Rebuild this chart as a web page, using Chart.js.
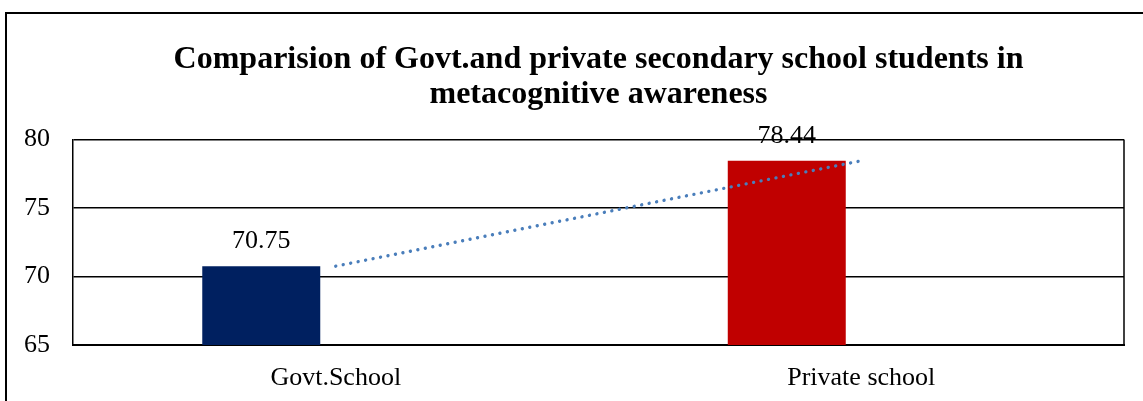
<!DOCTYPE html>
<html>
<head>
<meta charset="utf-8">
<script src="https://cdn.jsdelivr.net/npm/chart.js@4/dist/chart.umd.min.js"></script>
<style>
  html, body { margin: 0; padding: 0; background: #fff; overflow: hidden; }
  #wrap { position: absolute; left: 0; top: 0; width: 1143px; height: 401px; }
</style>
</head>
<body>
<div id="wrap"><canvas id="c" width="1143" height="401"></canvas></div>
<script>
const categories = ["Govt.School", "Private school"];
const scores = [70.75, 78.44];
const barColors = ["#002060", "#C00000"];
const titleLines = ["Comparision of Govt.and private secondary school students in", "metacognitive awareness"];
const yMin = 65, yMax = 80, yStep = 5;

const FONT = "'Liberation Serif', 'Times New Roman', serif";

const extras = {
  id: 'extras',
  beforeDraw(chart) {
    const { ctx } = chart;
    ctx.save();
    ctx.fillStyle = '#fff';
    ctx.fillRect(0, 0, chart.width, chart.height);
    ctx.strokeStyle = '#000';
    ctx.lineWidth = 2;
    ctx.beginPath();
    ctx.moveTo(chart.width, 13);
    ctx.lineTo(6, 13);
    ctx.lineTo(6, chart.height);
    ctx.stroke();
    ctx.restore();
  },
  beforeDatasetsDraw(chart) {
    const { ctx, chartArea } = chart;
    ctx.save();
    ctx.strokeStyle = '#000';
    ctx.lineWidth = 1.5;
    ctx.beginPath();
    ctx.moveTo(chartArea.right, chartArea.top);
    ctx.lineTo(chartArea.right, chartArea.bottom);
    ctx.stroke();
    ctx.restore();
  },
  afterDatasetsDraw(chart) {
    const { ctx } = chart;
    const meta = chart.getDatasetMeta(0);
    ctx.save();
    ctx.font = "26px " + FONT;
    ctx.fillStyle = '#000';
    ctx.textAlign = 'center';
    ctx.textBaseline = 'middle';
    meta.data.forEach((bar, i) => {
      ctx.fillText(scores[i].toFixed(2), bar.x, bar.y - 25);
    });
    ctx.restore();
  }
};

new Chart(document.getElementById('c'), {
  type: 'bar',
  data: {
    labels: categories,
    datasets: [
      {
        label: 'Score',
        data: scores,
        backgroundColor: barColors,
        borderWidth: 0,
        categoryPercentage: 0.567,
        barPercentage: 0.792,
        order: 2
      },
      {
        label: 'blank',
        data: categories.map(() => null),
        backgroundColor: 'rgba(0,0,0,0)',
        categoryPercentage: 0.567,
        barPercentage: 0.792,
        order: 3
      },
      {
        type: 'line',
        label: 'Trend',
        data: scores,
        borderColor: '#4A7EBB',
        borderWidth: 3.4,
        borderDash: [0.01, 7.6],
        borderCapStyle: 'round',
        pointRadius: 0,
        fill: false,
        tension: 0,
        order: 0
      }
    ]
  },
  options: {
    responsive: false,
    animation: false,
    layout: { padding: { left: 0, right: 19, top: 0, bottom: 0 } },
    plugins: {
      legend: { display: false },
      tooltip: { enabled: false },
      title: {
        display: true,
        fullSize: false,
        text: titleLines,
        color: '#000',
        font: { family: FONT, size: 32, weight: 'bold', lineHeight: 1.1 },
        padding: { top: 42, bottom: 27 }
      }
    },
    scales: {
      x: {
        grid: { display: false, drawTicks: false },
        border: { display: true, color: '#000', width: 2 },
        ticks: { color: '#000', font: { family: FONT, size: 26 }, padding: 18, maxRotation: 0 },
        afterFit(scale) { scale.height = 56; }
      },
      y: {
        min: yMin,
        max: yMax,
        ticks: { stepSize: yStep, color: '#000', font: { family: FONT, size: 26 }, padding: 23 },
        grid: { color: '#000', lineWidth: 1.5, drawTicks: false },
        border: { display: true, color: '#000', width: 1.5 },
        afterFit(scale) { scale.width = 73; }
      }
    }
  },
  plugins: [extras]
});
</script>
</body>
</html>
